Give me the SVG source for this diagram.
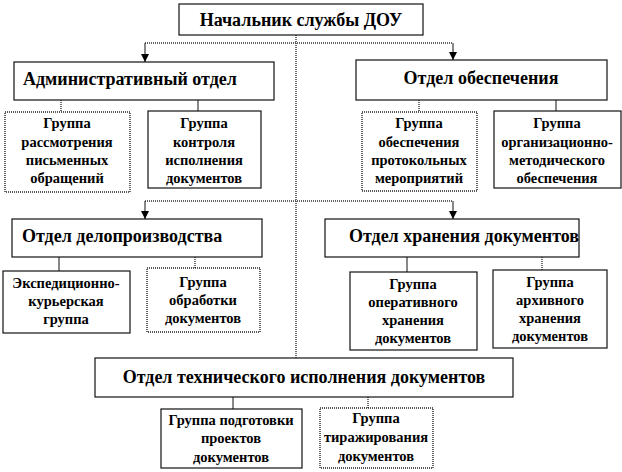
<svg xmlns="http://www.w3.org/2000/svg" width="622" height="472" viewBox="0 0 622 472">
<style>
.box{fill:#fff;stroke:#111;stroke-width:1.2}
.dbox{fill:#fff;stroke:#222;stroke-width:1.4;stroke-dasharray:1,1}
text{font-family:'Liberation Serif','DejaVu Serif',serif;font-weight:bold;fill:#000}
.h{font-size:18px}
.g{font-size:14.5px;text-anchor:middle}
.c{fill:none;stroke:#111;stroke-width:1}
.d{fill:none;stroke:#333;stroke-width:1.4;stroke-dasharray:1,1}
</style>
<defs>
<marker id="arr" viewBox="0 0 8 8" refX="8" refY="4" markerWidth="8" markerHeight="8" markerUnits="userSpaceOnUse" orient="auto">
<path d="M0,0 L8,4 L0,8 z" fill="#000"/>
</marker>
</defs>
<rect width="622" height="472" fill="#fff"/>
<g id="connectors">
<path class="d" d="M296,35 V358"/>
<path class="d" d="M145,43 H453"/>
<path class="c" d="M145,43 V62" marker-end="url(#arr)"/>
<path class="c" d="M453,43 V60" marker-end="url(#arr)"/>
<path class="d" d="M145,201 H453"/>
<path class="c" d="M145,201 V219" marker-end="url(#arr)"/>
<path class="c" d="M453,201 V219" marker-end="url(#arr)"/>
<path class="d" d="M61,100 V112"/>
<path class="c" d="M198,100 V111"/>
<path class="d" d="M419,100 V112"/>
<path class="c" d="M556,100 V111"/>
<path class="c" d="M59,257 V271"/>
<path class="d" d="M195,257 V268"/>
<path class="c" d="M407,257 V272"/>
<path class="d" d="M542,257 V270"/>
<path class="c" d="M233,397 V409"/>
<path class="d" d="M368,397 V408"/>
</g>
<g id="chief">
<rect class="box" x="179" y="4" width="244" height="31"/>
<text class="h" x="301" y="26" text-anchor="middle">Начальник службы ДОУ</text>
</g>
<g id="admin">
<rect class="box" x="14" y="62" width="260" height="38"/>
<text class="h" x="23" y="85">Административный отдел</text>
</g>
<g id="supply">
<rect class="box" x="356" y="60" width="251" height="40"/>
<text class="h" x="481" y="84" text-anchor="middle">Отдел обеспечения</text>
</g>
<g id="g-letters">
<rect class="dbox" x="5" y="112" width="125" height="80"/>
<text class="g" x="67"><tspan x="67" y="128">Группа</tspan><tspan x="67" y="147">рассмотрения</tspan><tspan x="67" y="165">письменных</tspan><tspan x="67" y="183">обращений</tspan></text>
</g>
<g id="g-control">
<rect class="box" x="148" y="111" width="113" height="77"/>
<text class="g" x="204"><tspan x="204" y="128">Группа</tspan><tspan x="204" y="147">контроля</tspan><tspan x="204" y="165">исполнения</tspan><tspan x="204" y="183">документов</tspan></text>
</g>
<g id="g-protocol">
<rect class="dbox" x="362" y="112" width="115" height="79"/>
<text class="g" x="419"><tspan x="419" y="128">Группа</tspan><tspan x="419" y="147">обеспечения</tspan><tspan x="419" y="165">протокольных</tspan><tspan x="419" y="183">мероприятий</tspan></text>
</g>
<g id="g-method">
<rect class="box" x="494" y="111" width="127" height="77"/>
<text class="g" x="557"><tspan x="557" y="128">Группа</tspan><tspan x="557" y="147">организационно-</tspan><tspan x="557" y="165">методического</tspan><tspan x="557" y="183">обеспечения</tspan></text>
</g>
<g id="records">
<rect class="box" x="12" y="219" width="250" height="38"/>
<text class="h" x="22" y="242">Отдел делопроизводства</text>
</g>
<g id="storage">
<rect class="box" x="325" y="219" width="254" height="38"/>
<text class="h" x="464" y="242" text-anchor="middle">Отдел хранения документов</text>
</g>
<g id="g-courier">
<rect class="box" x="3" y="271" width="127" height="62"/>
<text class="g" x="66"><tspan x="66" y="288">Экспедиционно-</tspan><tspan x="66" y="306">курьерская</tspan><tspan x="66" y="324">группа</tspan></text>
</g>
<g id="g-processing">
<rect class="dbox" x="147" y="268" width="113" height="64"/>
<text class="g" x="203"><tspan x="203" y="287">Группа</tspan><tspan x="203" y="305">обработки</tspan><tspan x="203" y="323">документов</tspan></text>
</g>
<g id="g-operative">
<rect class="box" x="350" y="272" width="127" height="78"/>
<text class="g" x="413"><tspan x="413" y="289">Группа</tspan><tspan x="413" y="307">оперативного</tspan><tspan x="413" y="325">хранения</tspan><tspan x="413" y="343">документов</tspan></text>
</g>
<g id="g-archive">
<rect class="box" x="493" y="270" width="114" height="78"/>
<text class="g" x="550"><tspan x="550" y="287">Группа</tspan><tspan x="550" y="305">архивного</tspan><tspan x="550" y="323">хранения</tspan><tspan x="550" y="341">документов</tspan></text>
</g>
<g id="technical">
<rect class="box" x="95" y="358" width="418" height="39"/>
<text class="h" x="304" y="383" text-anchor="middle">Отдел технического исполнения документов</text>
</g>
<g id="g-drafts">
<rect class="box" x="161" y="409" width="141" height="59"/>
<text class="g" x="231"><tspan x="231" y="425">Группа подготовки</tspan><tspan x="231" y="443">проектов</tspan><tspan x="231" y="462">документов</tspan></text>
</g>
<g id="g-copy">
<rect class="dbox" x="320" y="408" width="113" height="60"/>
<text class="g" x="376"><tspan x="376" y="423">Группа</tspan><tspan x="376" y="442">тиражирования</tspan><tspan x="376" y="461">документов</tspan></text>
</g>
</svg>
